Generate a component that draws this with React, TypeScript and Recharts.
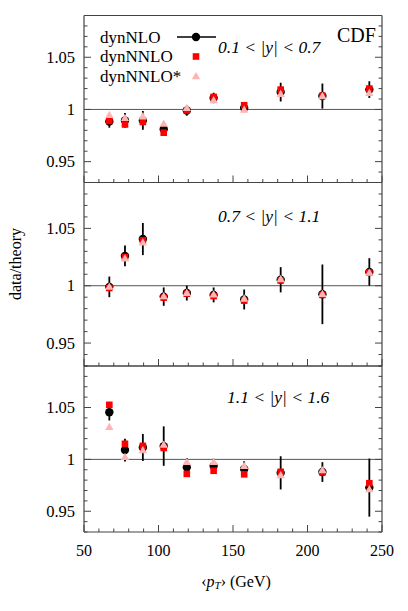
import { ScatterChart, Scatter, XAxis, YAxis, ErrorBar, ReferenceLine } from "recharts";

// <pT> bin centres (GeV), shared by the three rapidity panels
const ptBins = [67, 77.5, 89.5, 103.5, 119, 137, 157.5, 182, 210, 241.5];

// 0.1 < |y| < 0.7
const nlo1 = [0.9885, 0.9895, 0.9895, 0.981, 0.999, 1.011, 1.0013, 1.0166, 1.0128, 1.019];
const err1 = [0.006, 0.007, 0.009, 0.006, 0.005, 0.005, 0.003, 0.009, 0.012, 0.008];
const nnlo1 = [0.989, 0.9856, 0.988, 0.9777, 0.999, 1.012, 1.004, 1.019, 1.013, 1.02];
const nnloStar1 = [0.995, 0.992, 0.9936, 0.9866, 1.0016, 1.009, 1.0, 1.015, 1.013, 1.016];

// 0.7 < |y| < 1.1
const nlo2 = [0.999, 1.026, 1.0407, 0.9905, 0.9936, 0.992, 0.988, 1.0052, 0.9925, 1.012];
const err2 = [0.009, 0.009, 0.014, 0.008, 0.0065, 0.0065, 0.0087, 0.011, 0.026, 0.012];
const nnlo2 = [0.998, 1.025, 1.0396, 0.9896, 0.993, 0.991, 0.987, 1.0046, 0.992, 1.0115];
const nnloStar2 = [0.9994, 1.024, 1.038, 0.991, 0.994, 0.9925, 0.989, 1.006, 0.993, 1.0115];

// 1.1 < |y| < 1.6
const nlo3 = [1.0455, 1.009, 1.0115, 1.0128, 0.9923, 0.9936, 0.9907, 0.987, 0.9878, 0.9728];
const err3 = [0.008, 0.011, 0.013, 0.019, 0.009, 0.007, 0.0075, 0.016, 0.0095, 0.028];
const nnlo3 = [1.0526, 1.015, 1.013, 1.011, 0.986, 0.989, 0.9856, 0.988, 0.9875, 0.977];
const nnloStar3 = [1.0314, 1.0026, 1.009, 1.0144, 0.9978, 0.9978, 0.994, 0.985, 0.9897, 0.9715];

const xTicks = [50, 60, 70, 80, 90, 100, 110, 120, 130, 140, 150, 160, 170, 180, 190, 200, 210, 220, 230, 240, 250];
const xMajor = [50, 100, 150, 200, 250];
const yTicks = [0.93, 0.94, 0.95, 0.96, 0.97, 0.98, 0.99, 1.0, 1.01, 1.02, 1.03, 1.04, 1.05, 1.06, 1.07, 1.08, 1.09];
const yMajor = ["0.95", "1", "1.05"];

const W = 408;
const H = 611;
const FONT = "'Liberation Serif', 'Times New Roman', serif";
const FRAME = "#444";
const RED = "#ff0000";
const PINK = "#ffb4b4";

const toRows = (ys: number[], errs?: number[]) =>
  ptBins.map((x, i) => ({ x, y: ys[i], err: errs ? errs[i] : 0 }));

const panels = [
  { top: 15.5, bottom: 182.5, nlo: nlo1, err: err1, nnlo: nnlo1, star: nnloStar1, xLabels: false },
  { top: 182.5, bottom: 366, nlo: nlo2, err: err2, nnlo: nnlo2, star: nnloStar2, xLabels: false },
  { top: 366, bottom: 532, nlo: nlo3, err: err3, nnlo: nnlo3, star: nnloStar3, xLabels: true },
];

const Dot = (p: any) => <circle cx={p.cx} cy={p.cy} r={4.2} fill="#000" />;
const Square = (p: any) => <rect x={p.cx - 3.3} y={p.cy - 3.3} width={6.6} height={6.6} fill={RED} />;
const Tri = (p: any) => (
  <polygon points={`${p.cx - 4.2},${p.cy + 3.3} ${p.cx + 4.2},${p.cy + 3.3} ${p.cx},${p.cy - 4}`} fill={PINK} />
);

function XTick(props: any) {
  const { x, y, payload, side, showLabel } = props;
  const v = payload.value;
  const major = xMajor.includes(v);
  const len = major ? 7 : 3.5;
  const dir = side === "top" ? 1 : -1;
  return (
    <g>
      <line x1={x} x2={x} y1={y} y2={y + dir * len} stroke={FRAME} strokeWidth={1} />
      {showLabel && major && (
        <text x={x} y={y + 18} textAnchor="middle" dominantBaseline="central" fontSize={16} fontFamily={FONT} fill="#000">
          {v}
        </text>
      )}
    </g>
  );
}

function YTick(props: any) {
  const { x, y, payload, side } = props;
  const label = String(+payload.value.toFixed(2));
  const major = yMajor.includes(label);
  const len = major ? 7 : 3.5;
  const dir = side === "left" ? 1 : -1;
  return (
    <g>
      <line x1={x} x2={x + dir * len} y1={y} y2={y} stroke={FRAME} strokeWidth={1} />
      {side === "left" && major && (
        <text x={x - 9} y={y} textAnchor="end" dominantBaseline="central" fontSize={16.5} fontFamily={FONT} fill="#000">
          {label}
        </text>
      )}
    </g>
  );
}

function Panel({ p }: { p: (typeof panels)[number] }) {
  const axisLine = { stroke: FRAME, strokeWidth: 1.2 };
  return (
    <div style={{ position: "absolute", left: 0, top: 0 }}>
      <ScatterChart
        width={W}
        height={H}
        margin={{ top: p.top - 1, bottom: H - p.bottom - 1, left: 83, right: W - 383 }}
      >
        <XAxis xAxisId="b" dataKey="x" type="number" domain={[50, 250]} ticks={xTicks} interval={0}
          height={1} tickSize={0} tickMargin={0} tickLine={false} axisLine={axisLine} allowDataOverflow
          tick={<XTick side="bottom" showLabel={p.xLabels} />} />
        <XAxis xAxisId="t" orientation="top" type="number" domain={[50, 250]} ticks={xTicks} interval={0}
          height={1} tickSize={0} tickMargin={0} tickLine={false} axisLine={axisLine} allowDataOverflow
          tick={<XTick side="top" />} />
        <YAxis yAxisId="l" dataKey="y" type="number" domain={[0.93, 1.09]} ticks={yTicks} interval={0}
          width={1} tickSize={0} tickMargin={0} tickLine={false} axisLine={axisLine} allowDataOverflow
          tick={<YTick side="left" />} />
        <YAxis yAxisId="r" orientation="right" type="number" domain={[0.93, 1.09]} ticks={yTicks} interval={0}
          width={1} tickSize={0} tickMargin={0} tickLine={false} axisLine={axisLine} allowDataOverflow
          tick={<YTick side="right" />} />
        <ReferenceLine xAxisId="b" yAxisId="l" y={1} stroke="#555" strokeWidth={1} />
        <Scatter xAxisId="b" yAxisId="l" data={toRows(p.nlo, p.err)} shape={Dot} isAnimationActive={false}>
          <ErrorBar dataKey="err" direction="y" width={0} stroke="#000" strokeWidth={1.8} isAnimationActive={false} />
        </Scatter>
        <Scatter xAxisId="b" yAxisId="l" data={toRows(p.nnlo)} shape={Square} isAnimationActive={false} />
        <Scatter xAxisId="b" yAxisId="l" data={toRows(p.star)} shape={Tri} isAnimationActive={false} />
      </ScatterChart>
    </div>
  );
}

function Labels() {
  const legendX = 196;
  return (
    <svg width={W} height={H} style={{ position: "absolute", left: 0, top: 0, pointerEvents: "none" }}
      fontFamily={FONT} fill="#000">
      <text x={100} y={37} fontSize={17} dominantBaseline="central">dynNLO</text>
      <text x={100} y={56.5} fontSize={17} dominantBaseline="central">dynNNLO</text>
      <text x={100} y={76} fontSize={17} dominantBaseline="central">dynNNLO*</text>
      <line x1={177} x2={216} y1={37} y2={37} stroke="#000" strokeWidth={1.5} />
      <Dot cx={legendX} cy={37} />
      <Square cx={legendX} cy={56.5} />
      <Tri cx={legendX} cy={76} />

      <text x={337} y={35} fontSize={20} dominantBaseline="central">CDF</text>
      <text x={218} y={46.5} fontSize={17.5} fontStyle="italic" dominantBaseline="central">0.1 &lt; |y| &lt; 0.7</text>
      <text x={218} y={216} fontSize={17.5} fontStyle="italic" dominantBaseline="central">0.7 &lt; |y| &lt; 1.1</text>
      <text x={227} y={397} fontSize={17.5} fontStyle="italic" dominantBaseline="central">1.1 &lt; |y| &lt; 1.6</text>

      <text x={15} y={264} fontSize={16} textAnchor="middle" dominantBaseline="central" transform="rotate(-90 15 264)">
        data/theory
      </text>
      <text x={236} y={581} fontSize={16} textAnchor="middle" dominantBaseline="central">
        ‹<tspan fontStyle="italic">p</tspan><tspan fontStyle="italic" fontSize={11} dy={4}>T</tspan><tspan dy={-4}>› (GeV)</tspan>
      </text>
    </svg>
  );
}

export default function App() {
  return (
    <div style={{ position: "absolute", left: 0, top: 0, width: W, height: H, background: "#fff" }}>
      {panels.map((p, i) => (
        <Panel key={i} p={p} />
      ))}
      <Labels />
    </div>
  );
}
